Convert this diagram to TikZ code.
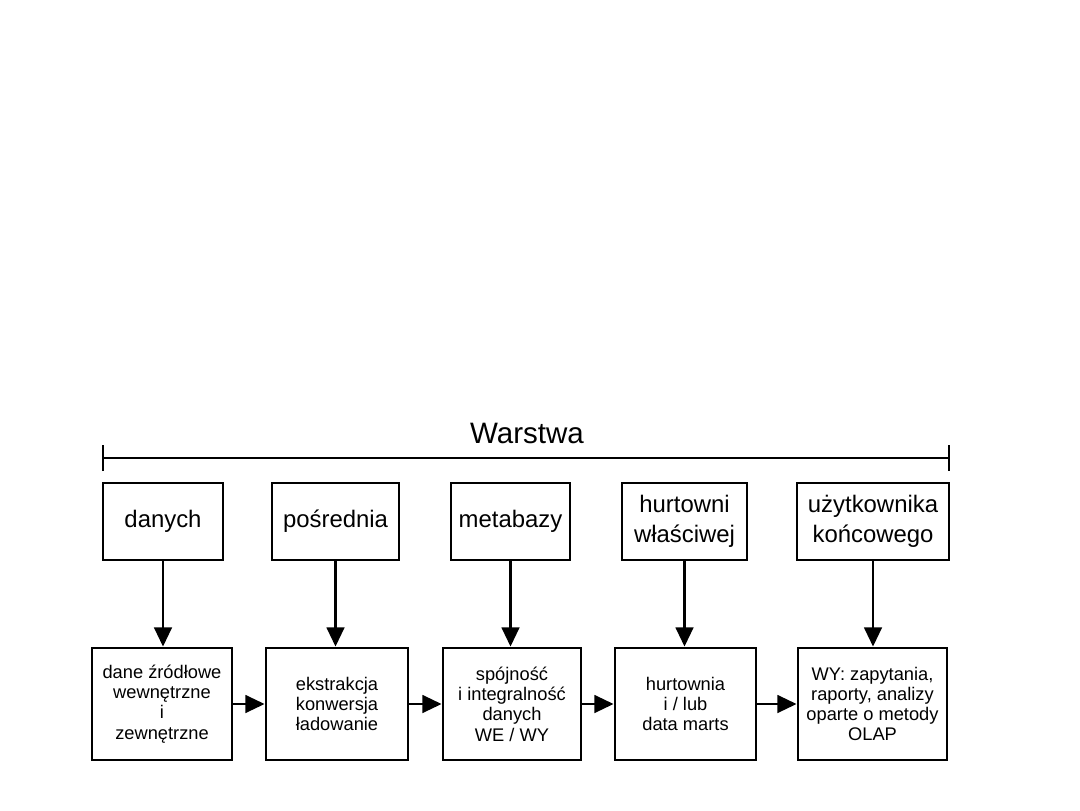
\documentclass[tikz,border=0pt]{standalone}
\usepackage{fontspec}
\setmainfont{Liberation Sans}
\usetikzlibrary{positioning,arrows.meta}

\begin{document}
\begin{tikzpicture}[>={Triangle[length=4.8mm,width=4.4mm]}, line width=1.9pt,
  layer/.style={draw, line width=2pt, align=center, minimum height=19.25mm, minimum width=#1,
    inner sep=1pt, font=\fontsize{17}{21}\selectfont},
  layer/.default=30mm,
  proc/.style={draw, line width=2pt, align=center, minimum height=28mm, minimum width=#1,
    inner sep=1pt, font=\fontsize{13}{14.4}\selectfont},
  proc/.default=35mm]
\useasboundingbox (0,0) rectangle (27,20.25);
% title and bracket
\node[font=\fontsize{21}{25}\selectfont] (title) at (13.175,9.425) {Warstwa};
\coordinate (wl) at (2.55,8.8);
\coordinate (wr) at (23.75,8.8);
\draw[line width=1.6pt, {Bar[width=6.5mm]}-{Bar[width=6.5mm]}] (wl) -- (wr);
% layers
\node[layer=30mm]    (t1) at (4.075,7.2125)   {danych};
\node[layer=31.75mm] (t2) at (8.3875,7.2125)  {pośrednia};
\node[layer=29.75mm] (t3) at (12.7625,7.2125) {metabazy};
\node[layer=31.25mm] (t4) at (17.1125,7.2125) {hurtowni\\właściwej};
\node[layer=38mm]    (t5) at (21.825,7.2125)  {użytkownika\\końcowego};
% processing
\node[proc=35mm]    (b1) at (4.05,2.65)    {dane źródłowe\\wewnętrzne\\i\\zewnętrzne};
\node[proc=35.5mm]  (b2) at (8.425,2.65)   {ekstrakcja\\konwersja\\ładowanie};
\node[proc=34.5mm]  (b3) at (12.8,2.65)    {spójność\\i integralność\\danych\\WE / WY};
\node[proc=35.25mm] (b4) at (17.1375,2.65) {hurtownia\\i / lub\\data marts};
\node[proc=37.25mm] (b5) at (21.8125,2.65) {WY: zapytania,\\raporty, analizy\\oparte o metody\\OLAP};
\foreach \i in {1,...,5} {\draw[->] (t\i.south) -- (t\i.south |- b\i.north);}
\foreach \a/\b in {b1/b2,b2/b3,b3/b4,b4/b5} {\draw[->] (\a.east) -- (\b.west);}
\end{tikzpicture}
\end{document}
